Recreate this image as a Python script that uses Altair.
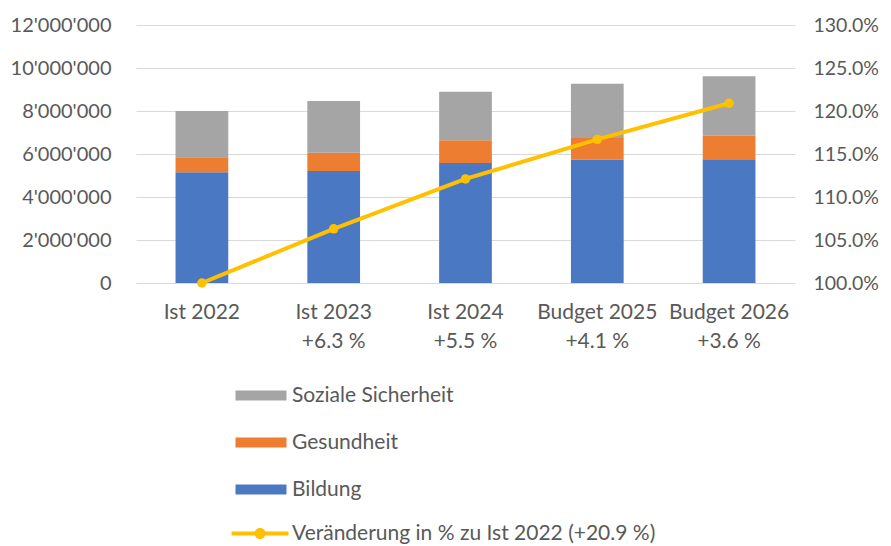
import altair as alt
import pandas as pd

# ---- data ----
kategorien = ["Ist 2022", "Ist 2023", "Ist 2024", "Budget 2025", "Budget 2026"]
wachstum = ["", "+6.3 %", "+5.5 %", "+4.1 %", "+3.6 %"]
bildung = [5150000, 5210000, 5580000, 5750000, 5760000]
gesundheit = [700000, 850000, 1060000, 1000000, 1090000]
soziale_sicherheit = [2150000, 2400000, 2260000, 2520000, 2770000]
veraenderung = [1.000, 1.063, 1.121, 1.167, 1.209]

bereiche = ["Soziale Sicherheit", "Gesundheit", "Bildung"]
farben = ["#A5A5A5", "#ED7D31", "#4A78C2"]
linien_name = "Veränderung in % zu Ist 2022 (+20.9 %)"
linien_farbe = "#FFC000"

left_ticks = [0, 2000000, 4000000, 6000000, 8000000, 10000000, 12000000]
right_ticks = [1.00, 1.05, 1.10, 1.15, 1.20, 1.25, 1.30]

# ---- tables ----
labels = [f"{k}|{w}" for k, w in zip(kategorien, wachstum)]
rows = []
for i, lab in enumerate(labels):
    rows.append({"Label": lab, "Bereich": "Bildung", "Wert": bildung[i], "Reihenfolge": 0})
    rows.append({"Label": lab, "Bereich": "Gesundheit", "Wert": gesundheit[i], "Reihenfolge": 1})
    rows.append({"Label": lab, "Bereich": "Soziale Sicherheit", "Wert": soziale_sicherheit[i], "Reihenfolge": 2})
bar_df = pd.DataFrame(rows)
line_df = pd.DataFrame({"Label": labels, "Prozent": veraenderung, "Reihe": linien_name})

FONT = "Lato"
TXT = "#595959"

rect_path = "M-2.55,-0.5H2.55V0.5H-2.55Z"
line_path = ("M-2.85,-0.2H2.85V0.2H-2.85Z "
             "M0.55,0A0.55,0.55 0 1,1 -0.55,0A0.55,0.55 0 1,1 0.55,0Z")

x_enc = alt.X(
    "Label:N", sort=labels,
    scale=alt.Scale(paddingInner=0.6, paddingOuter=0.3),
    axis=alt.Axis(title=None, labelExpr="split(datum.label, '|')", labelAngle=0,
                  domain=False, ticks=False, grid=False, labelFont=FONT,
                  labelFontSize=21, labelColor=TXT, labelPadding=18,
                  labelLineHeight=29),
)

bars = alt.Chart(bar_df).mark_bar().encode(
    x=x_enc,
    y=alt.Y("Wert:Q", stack="zero",
            scale=alt.Scale(domain=[0, 12000000], nice=False),
            axis=alt.Axis(title=None, values=left_ticks,
                          labelExpr='replace(format(datum.value, ","), regexp(",", "g"), "\'")',
                          grid=True, gridColor="#D9D9D9", gridWidth=1.2,
                          domain=False, ticks=False, labelFont=FONT,
                          labelFontSize=20, labelColor=TXT, labelPadding=25)),
    color=alt.Color("Bereich:N",
                    scale=alt.Scale(domain=bereiche, range=farben),
                    legend=alt.Legend(title=None, orient="none", legendX=114.5,
                                      legendY=360, direction="vertical",
                                      symbolType=rect_path, symbolSize=400,
                                      symbolStrokeWidth=0, rowPadding=25,
                                      labelOffset=20.5, labelFont=FONT,
                                      labelFontSize=21, labelColor=TXT,
                                      labelLimit=600)),
    order=alt.Order("Reihenfolge:Q", sort="ascending"),
)

y_right = alt.Y("Prozent:Q",
                scale=alt.Scale(domain=[1.0, 1.3], nice=False),
                axis=alt.Axis(title=None, orient="right", values=right_ticks,
                              format=".1%", grid=False, domain=False, ticks=False,
                              labelFont=FONT, labelFontSize=19.5, labelColor=TXT,
                              labelPadding=18))

line = alt.Chart(line_df).mark_line(color=linien_farbe, strokeWidth=4).encode(
    x=alt.X("Label:N", sort=labels),
    y=y_right,
)
points = alt.Chart(line_df).mark_circle(size=90, opacity=1).encode(
    x=alt.X("Label:N", sort=labels),
    y=alt.Y("Prozent:Q"),
    color=alt.Color("Reihe:N",
                    scale=alt.Scale(domain=[linien_name], range=[linien_farbe]),
                    legend=alt.Legend(title=None, orient="none", legendX=113.5,
                                      legendY=498, symbolType=line_path,
                                      symbolSize=400, symbolStrokeWidth=0,
                                      symbolOpacity=1, labelOffset=21.5,
                                      labelFont=FONT, labelFontSize=21,
                                      labelColor=TXT, labelLimit=600)),
)

chart = alt.layer(bars, alt.layer(line, points)).resolve_scale(
    y="independent", color="independent"
).properties(
    width=659, height=258,
    padding={"left": 2, "top": 7, "right": 2, "bottom": 0},
).configure_view(stroke=None)

chart.save("out.html", embed_options={"renderer": "svg", "actions": False})
